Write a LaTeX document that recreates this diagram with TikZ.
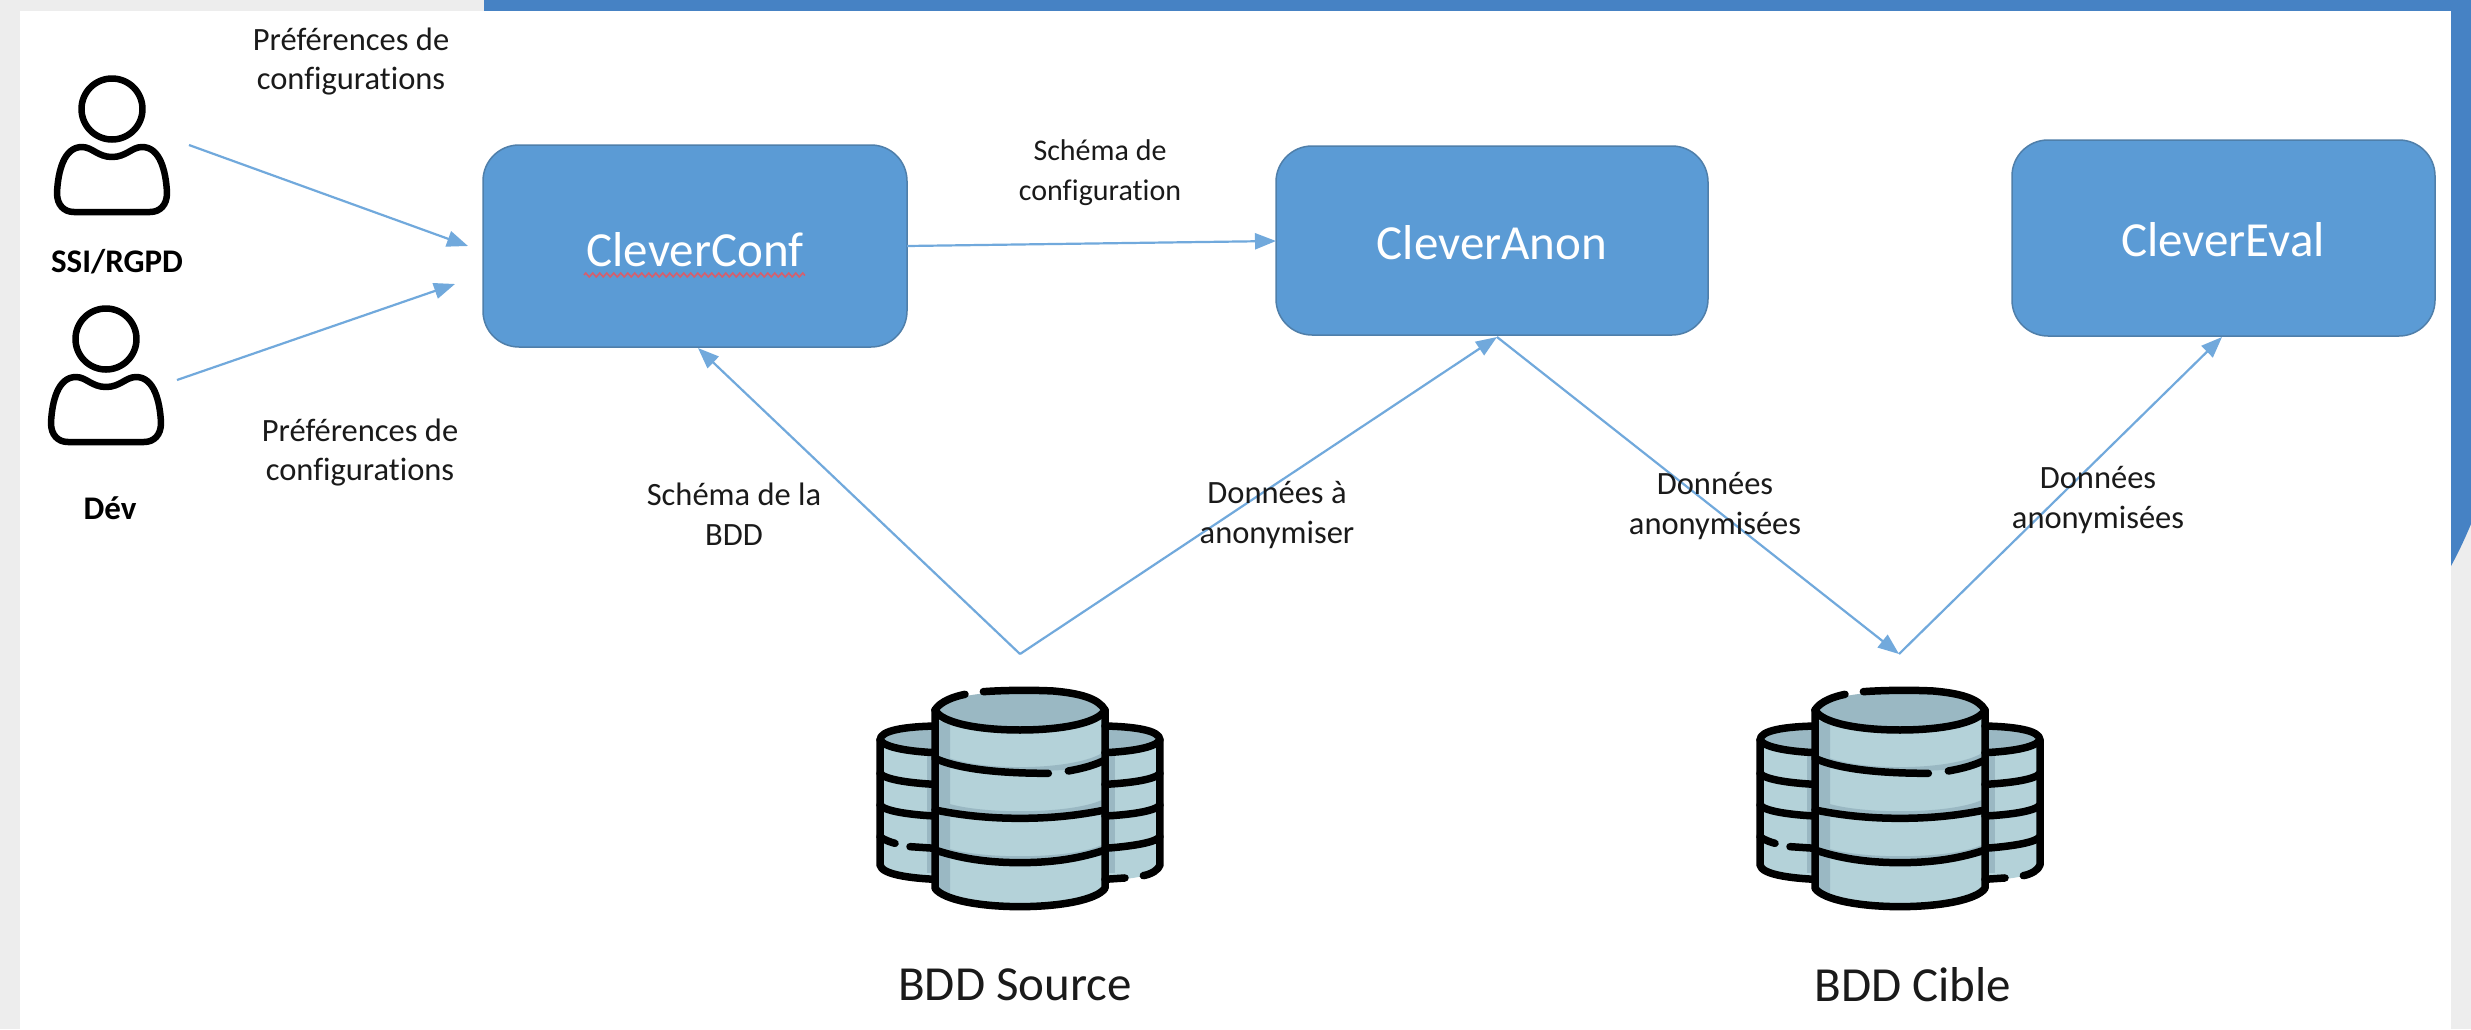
\documentclass[tikz,border=0pt]{standalone}
\usepackage{fontspec}
\setmainfont[Ligatures=NoCommon]{Carlito}
\usetikzlibrary{arrows.meta,calc,decorations.pathmorphing}
\definecolor{pagegray}{HTML}{EDEDED}
\definecolor{banner}{HTML}{4682C4}
\definecolor{boxfill}{HTML}{5B9BD5}
\definecolor{boxedge}{HTML}{4F7FAA}
\definecolor{flow}{HTML}{71A9DC}
\definecolor{dblight}{HTML}{B4D2D9}
\definecolor{dbdark}{HTML}{9AB8C3}
\definecolor{inkdark}{HTML}{1A1A1A}
\tikzset{
  x=1pt,y=-1pt,
  module/.style={draw=boxedge,line width=1.5pt,fill=boxfill,rounded corners=36pt,inner sep=0pt},
  modtext/.style={text=white,font=\fontsize{49}{49}\selectfont,inner sep=0pt},
  lbl/.style={text=inkdark,font=\fontsize{32.5}{39.5}\selectfont,align=center,inner sep=0pt},
  lblsmall/.style={text=inkdark,font=\fontsize{30}{39.5}\selectfont,align=center,inner sep=0pt},
  actorlbl/.style={text=black,font=\fontsize{33}{36}\selectfont\bfseries,inner sep=0pt},
  dblbl/.style={text=inkdark,font=\fontsize{49}{49}\selectfont,inner sep=0pt},
  flowline/.style={draw=flow,line width=2.2pt,-{Triangle[length=21pt,width=16pt]}},
  dbline/.style={draw=black,line width=7.5pt,line cap=round,line join=round},
}
% person icon, origin at head centre
\newcommand{\personicon}[2]{%
  \begin{scope}[shift={(#1,#2)},draw=black,line width=6.5pt,line join=round]
    \draw (0,0) ellipse [x radius=30.5,y radius=30.5];
    \draw (-30,38) .. controls (-20,38) and (-14,48) .. (0,48)
      .. controls (14,48) and (20,38) .. (30,38)
      .. controls (48,38) and (54,62) .. (55,84)
      .. controls (55,96) and (48,103) .. (38,103)
      -- (-38,103)
      .. controls (-48,103) and (-55,96) .. (-55,84)
      .. controls (-54,62) and (-48,38) .. (-30,38) -- cycle;
  \end{scope}}
% database icon: zoom coordinates (3 units per pixel), origin at centre top
\newcommand{\dbicon}[2]{%
  \begin{scope}[shift={(#1,#2)},x=0.3333pt,y=-0.3333pt]
    % side cylinders
    \fill[dblight] (-425,295) -- (-425,680) .. controls (-400,710) and (-320,720) .. (-250,720) -- (250,720)
       .. controls (320,720) and (400,710) .. (425,680) -- (425,295) -- cycle;
    \fill[dbdark] (-420,300) .. controls (-380,265) and (-300,262) .. (-250,260) -- (250,260)
       .. controls (300,262) and (380,265) .. (420,300) .. controls (380,325) and (300,338) .. (250,340) -- (-250,340)
       .. controls (-300,338) and (-380,325) .. (-420,300) -- cycle;
    \fill[dbdark] (-280,300) rectangle (-250,700);
    \fill[dbdark] (260,300) rectangle (285,700);
    % centre cylinder
    \fill[dblight] (-255,210) -- (-255,745) .. controls (-230,780) and (-120,800) .. (0,800)
       .. controls (120,800) and (230,780) .. (255,745) -- (255,210) -- cycle;
    \fill[dbdark] (-255,240) -- (-210,250) -- (-210,780) -- (-255,750) -- cycle;
    \fill[dbdark] (-245,340) .. controls (-150,395) and (150,395) .. (245,340) -- (245,375) .. controls (150,400) and (-150,400) .. (-245,375) -- cycle;
    \fill[dbdark] (-245,480) .. controls (-150,525) and (150,525) .. (245,480) -- (245,510) .. controls (150,535) and (-150,535) .. (-245,510) -- cycle;
    \fill[dbdark] (-245,615) .. controls (-150,660) and (150,660) .. (245,615) -- (245,645) .. controls (150,670) and (-150,670) .. (-245,645) -- cycle;
    \fill[dbdark] (0,155) .. controls (130,155) and (235,175) .. (255,210) .. controls (235,250) and (120,270) .. (0,270)
       .. controls (-120,270) and (-235,250) .. (-255,210) .. controls (-235,175) and (-130,155) .. (0,155) -- cycle;
    % outlines of side cylinders
    \draw[dbline] (-255,258) .. controls (-340,260) and (-420,270) .. (-420,300) -- (-420,675)
       .. controls (-415,705) and (-320,715) .. (-255,718);
    \draw[dbline] (-420,300) .. controls (-405,325) and (-320,335) .. (-255,338);
    \draw[dbline] (-420,400) .. controls (-405,420) and (-320,430) .. (-255,433);
    \draw[dbline] (-420,495) .. controls (-405,515) and (-320,525) .. (-255,528);
    \draw[dbline] (-420,590) -- (-410,597) .. controls (-400,602) and (-390,606) .. (-375,610);
    \draw[dbline] (-330,620) -- (-255,625);
    \draw[dbline] (255,258) .. controls (340,260) and (420,270) .. (420,300) -- (420,675)
       .. controls (415,690) and (395,702) .. (370,707);
    \draw[dbline] (315,714) -- (255,718);
    \draw[dbline] (420,300) .. controls (405,325) and (320,335) .. (255,338);
    \draw[dbline] (420,400) .. controls (405,420) and (320,430) .. (255,433);
    \draw[dbline] (420,495) .. controls (405,515) and (320,525) .. (255,528);
    \draw[dbline] (420,590) .. controls (405,610) and (320,620) .. (255,625);
    % outlines of centre cylinder
    \draw[dbline] (-255,210) -- (-255,745) .. controls (-230,780) and (-120,800) .. (0,800)
       .. controls (120,800) and (230,780) .. (255,745) -- (255,210);
    \draw[dbline] (-255,210) .. controls (-235,250) and (-120,270) .. (0,270)
       .. controls (120,270) and (235,250) .. (255,210);
    \draw[dbline] (-255,210) .. controls (-240,185) and (-200,170) .. (-165,163);
    \draw[dbline] (-110,155) .. controls (-40,150) and (40,150) .. (100,153)
       .. controls (180,160) and (235,175) .. (255,210);
    \draw[dbline] (-255,355) .. controls (-200,380) and (-100,400) .. (85,400);
    \draw[dbline] (145,393) .. controls (190,385) and (225,375) .. (255,360);
    \draw[dbline] (-255,510) .. controls (-180,525) and (-100,535) .. (0,535)
       .. controls (100,535) and (180,525) .. (255,510);
    \draw[dbline] (-255,630) .. controls (-180,655) and (-100,668) .. (0,668)
       .. controls (100,668) and (180,655) .. (255,630);
  \end{scope}}
\begin{document}
\begin{tikzpicture}
  \useasboundingbox (0,0) rectangle (2471,1029);
  % slide frame
  \fill[pagegray] (0,0) rectangle (2471,1029);
  \fill[banner] (484,0) -- (2471,0) -- (2471,524) .. controls (2463,543) and (2457,555) .. (2451,566) -- (2451,11) -- (484,11) -- cycle;
  \fill[white] (20,11) rectangle (2451,1029);

  % modules
  \draw[module] (483,145) rectangle (907,347);
  \node[inner sep=0pt,minimum width=424pt,minimum height=202pt] (conf) at (695,246) {};
  \draw[module] (1276,146) rectangle (1708,335);
  \node[inner sep=0pt,minimum width=432pt,minimum height=189pt] (anon) at (1492,240.5) {};
  \draw[module] (2012,140) rectangle (2435,336);
  \node[inner sep=0pt,minimum width=423pt,minimum height=196pt] (evalb) at (2223.5,238) {};
  \node[modtext] (conft) at (695,250) {CleverConf};
  \node[modtext] (anont) at (1492,243) {CleverAnon};
  \node[modtext] (evalt) at (2223,240) {CleverEval};
  \draw[draw=red!70!white,opacity=.75,line width=1.6pt,decorate,decoration={zigzag,segment length=7pt,amplitude=2pt}]
     (584,275) -- (805,275);

  % free connector ends
  \coordinate (p1) at (189,145);
  \coordinate (p1e) at (468,246);
  \coordinate (p2) at (177,380);
  \coordinate (p2e) at (455,284);
  \coordinate (src) at (1020,654);
  \coordinate (tgt) at (1899,654);
  \coordinate (confin) at (698,348);
  \coordinate (anonin) at (1497,337);
  \coordinate (evalin) at (2222,337);
  \coordinate (confout) at (907,246);
  \coordinate (anonleft) at (1276,241);

  \draw[flowline] (p1) -- (p1e);
  \draw[flowline] (p2) -- (p2e);
  \draw[flowline] (confout) -- (anonleft);
  \draw[flowline] (src) -- (confin);
  \draw[flowline] (src) -- (anonin);
  \draw[flowline] (anonin) -- (tgt);
  \draw[flowline] (tgt) -- (evalin);

  % icons
  \personicon{112}{109}
  \personicon{106}{339}
  \dbicon{1020}{640}
  \dbicon{1900}{640}

  % labels
  \node[actorlbl] (ssi) at (117,262) {SSI/RGPD};
  \node[actorlbl] (dev) at (110,508) {Dév};
  \node[lbl] (l1) at (351,61.5) {Préférences de\\configurations};
  \node[lbl] (l2) at (360,452.5) {Préférences de\\configurations};
  \node[lblsmall] (l3) at (1100,172.5) {Schéma de\\configuration};
  \node[lbl] (l4) at (734,514) {Schéma de la\\BDD};
  \node[lbl] (l5) at (1277,515) {Données à\\anonymiser};
  \node[lbl] (l6) at (1715,506) {Données\\anonymisées};
  \node[lbl] (l7) at (2098,500) {Données\\anonymisées};
  \node[dblbl] (s1) at (1015,985) {BDD Source};
  \node[dblbl] (s2) at (1913,985) {BDD Cible};
\end{tikzpicture}
\end{document}
